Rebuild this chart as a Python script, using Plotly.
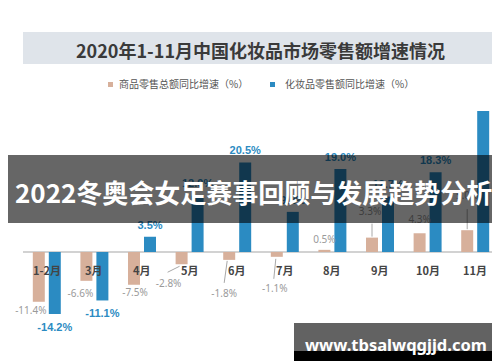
import plotly.graph_objects as go

categories = ["1-2月", "3月", "4月", "5月", "6月", "7月", "8月", "9月", "10月", "11月"]
retail_total = [-11.4, -6.6, -7.5, -2.8, -1.8, -1.1, 0.5, 3.3, 4.3, 5.0]
cosmetics = [-14.2, -11.1, 3.5, 12.9, 20.5, 9.2, 19.0, 12.7, 18.3, 32.3]
series_names = ["商品零售总额同比增速（%）", "化妆品零售额同比增速（%）"]
title_text = "2020年1-11月中国化妆品市场零售额增速情况"
banner_text = "2022冬奥会女足赛事回顾与发展趋势分析"
watermark_text = "www.tbsalwqgjjd.com"
source_text = "*数据来源：国家统计局，前瞻产业研究院整理    2020.12"

TAN = "#d7b09b"
BLUE = "#2b8bc2"
CJK = "Noto Sans CJK SC, Noto Sans, sans-serif"
NARROW = "Liberation Sans Narrow, Arial Narrow, Liberation Sans, sans-serif"

# pixel scale helpers (plot area: x 15..491, y 100..330)
PX_X = 47.6
Y_MIN, Y_MAX = -19.7, 33.0
PX_Y = 230 / (Y_MAX - Y_MIN)

def ux(px):
    return px / PX_X

def uy(px):
    return px / PX_Y

n = len(categories)
xs = list(range(n))
TAN_OFF, BLUE_OFF, W = -0.294, 0.042, 0.252
tan_c = [i + TAN_OFF + W / 2 for i in xs]
blue_c = [i + BLUE_OFF + W / 2 for i in xs]

fig = go.Figure()
fig.add_trace(go.Bar(x=xs, y=retail_total, offset=TAN_OFF, width=W,
                     marker=dict(color=TAN, line=dict(width=0)), hoverinfo="skip"))
fig.add_trace(go.Bar(x=xs, y=cosmetics, offset=BLUE_OFF, width=W,
                     marker=dict(color=BLUE, line=dict(width=0)), hoverinfo="skip"))

# blue value labels
bl_y = [v + (uy(11) if v > 0 else -uy(14)) for v in cosmetics]
fig.add_trace(go.Scatter(x=blue_c, y=bl_y, mode="text",
                         text=[f"{v:.1f}%" for v in cosmetics],
                         textfont=dict(family=NARROW, size=11, color=BLUE, weight="bold"),
                         cliponaxis=False, hoverinfo="skip"))

# tan value labels (pixel offsets from bar end)
tan_dx = [-8, -6, 1, -13, -5, -2, 0, -2, 0, 0]
tan_dy = [-10, -14, -9, -20, -35, -33, 9, 25, 13, 34]
tl_x = [tan_c[i] + ux(tan_dx[i]) for i in xs]
tl_y = [retail_total[i] + uy(tan_dy[i]) for i in xs]
fig.add_trace(go.Scatter(x=tl_x, y=tl_y, mode="text",
                         text=[f"{v:.1f}%" for v in retail_total],
                         textfont=dict(family="Noto Sans, sans-serif", size=10, color="#9a9a9a"),
                         cliponaxis=False, hoverinfo="skip"))

# leader lines
lx, ly = [], []
leaders = {3: ((-14, -8), (-2, -2)), 4: ((-5, -23), (-2, -1)), 5: ((-3, -22), (-1, -2)),
           7: ((0, 14), (0, 1)), 9: ((0, 21), (0, 1))}
for i, ((x0, y0), (x1, y1)) in leaders.items():
    lx += [tan_c[i] + ux(x0), tan_c[i] + ux(x1), None]
    ly += [retail_total[i] + uy(y0), retail_total[i] + uy(y1), None]
fig.add_trace(go.Scatter(x=lx, y=ly, mode="lines", line=dict(color="#a8a8a8", width=1),
                         cliponaxis=False, hoverinfo="skip"))

# faint source text (behind watermark)
fig.add_trace(go.Scatter(x=[ux(383 - 15) - 0.5], y=[-uy(333 - 244)], mode="text",
                         text=[source_text],
                         textfont=dict(family=CJK, size=9, color="#b0b0b0"),
                         cliponaxis=False, hoverinfo="skip"))

shapes = [
    dict(type="rect", xref="paper", yref="paper", x0=0, x1=1.02, y0=1.191, y1=1.330,
         fillcolor="#dfe4ea", line=dict(width=0), layer="below"),
    dict(type="line", xref="x", yref="y", x0=-0.5, x1=9.5, y0=0, y1=0,
         line=dict(color="#d2d2d2", width=2), layer="below"),
    dict(type="rect", xref="paper", yref="paper", x0=(100 - 15) / 476, x1=(105 - 15) / 476,
         y0=(330 - 79) / 230, y1=(330 - 74) / 230, fillcolor=TAN, line=dict(width=0)),
    dict(type="rect", xref="paper", yref="paper", x0=(262 - 15) / 476, x1=(267 - 15) / 476,
         y0=(330 - 79) / 230, y1=(330 - 74) / 230, fillcolor=BLUE, line=dict(width=0)),
    dict(type="rect", xref="paper", yref="paper", x0=-0.04, x1=1.04,
         y0=(330 - 215) / 230, y1=(330 - 147) / 230,
         fillcolor="rgba(0,0,0,0.6)", line=dict(width=0), layer="above"),
    dict(type="rect", xref="paper", yref="paper", x0=(286 - 15) / 476, x1=(491 - 15) / 476,
         y0=(330 - 343) / 230, y1=(330 - 315) / 230,
         fillcolor="rgba(70,70,70,0.85)", line=dict(width=0), layer="above"),
    dict(type="rect", xref="paper", yref="paper", x0=(286 - 15) / 476, x1=(491 - 15) / 476,
         y0=(330 - 353) / 230, y1=(330 - 343) / 230,
         fillcolor="#000000", line=dict(width=0), layer="above"),
]

annotations = [
    dict(text=title_text, xref="paper", yref="paper", x=(252 - 15) / 476, y=(330 - 42) / 230,
         showarrow=False, font=dict(family=CJK, size=18, color="#3a3a3a", weight="bold"),
         xanchor="center", yanchor="middle"),
    dict(text=series_names[0], xref="paper", yref="paper", x=(109 - 15) / 476, y=(330 - 76) / 230,
         showarrow=False, font=dict(family=CJK, size=10, color="#555555"),
         xanchor="left", yanchor="middle"),
    dict(text=series_names[1], xref="paper", yref="paper", x=(275 - 15) / 476, y=(330 - 76) / 230,
         showarrow=False, font=dict(family=CJK, size=10, color="#555555"),
         xanchor="left", yanchor="middle"),
    dict(text=banner_text, xref="paper", yref="paper", x=(245 - 15) / 476, y=(330 - 183) / 230,
         showarrow=False, font=dict(family=CJK, size=26, color="#ffffff", weight="bold"),
         xanchor="center", yanchor="middle"),
    dict(text=watermark_text, xref="paper", yref="paper", x=(388 - 15) / 476, y=(330 - 336) / 230,
         showarrow=False, font=dict(family="Noto Sans, DejaVu Sans, sans-serif", size=16.5,
                                    color="#ffffff", weight="bold"),
         xanchor="center", yanchor="middle"),
]
for i, c in enumerate(categories):
    annotations.append(dict(text=c, x=i, y=0, xref="x", yref="y", yshift=-18, showarrow=False,
                            font=dict(family=CJK, size=11, color="#444444", weight="bold"),
                            xanchor="center", yanchor="middle"))

fig.update_layout(
    width=500, height=362,
    margin=dict(l=15, r=9, t=100, b=32),
    paper_bgcolor="#ffffff", plot_bgcolor="#ffffff",
    barmode="overlay", showlegend=False,
    xaxis=dict(range=[-0.5, 9.5], visible=False, fixedrange=True),
    yaxis=dict(range=[Y_MIN, Y_MAX], visible=False, fixedrange=True),
    shapes=shapes, annotations=annotations,
)

fig.write_html("out.html")
